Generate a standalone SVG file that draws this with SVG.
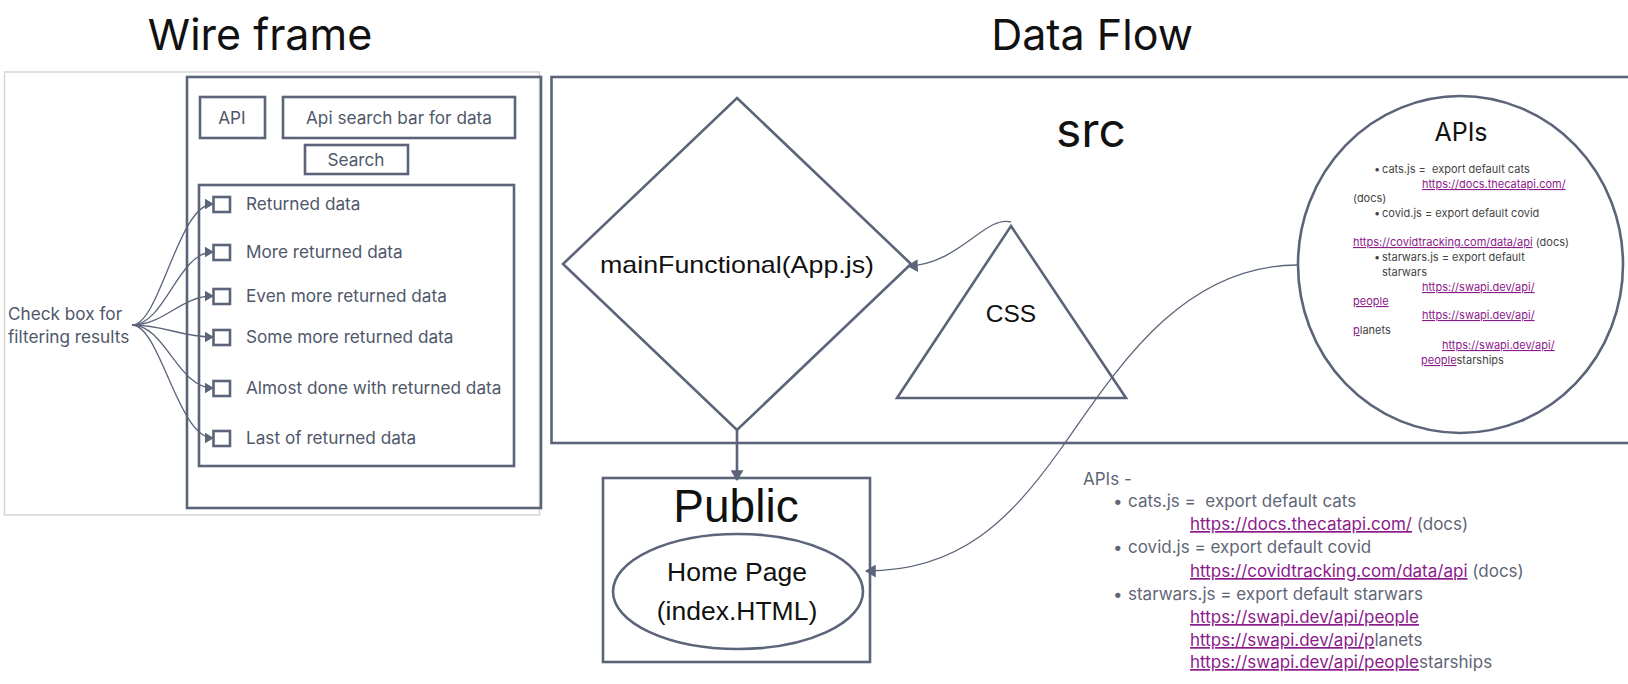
<svg xmlns="http://www.w3.org/2000/svg" width="1628" height="684" viewBox="0 0 1628 684">
<style>
.ln{fill:none;stroke:#5b6478;stroke-width:2.6}
.thin{fill:none;stroke:#5b6478;stroke-width:1.3}
.wt{font-family:Inter,"Liberation Sans",sans-serif;font-size:17.2px;fill:#4f586a}
.title{font-family:Inter,"Liberation Sans",sans-serif;font-size:43px;fill:#111}
.bk{font-family:"Liberation Sans",Arial,sans-serif;fill:#111}
.sm{font-family:Inter,"Liberation Sans",sans-serif;font-size:11px;fill:#444}
.lk{fill:#8b1a8b;text-decoration:underline}
.api{font-family:Inter,"Liberation Sans",sans-serif;font-size:17px;fill:#5f6676}
</style>
<defs>
<marker id="ah" viewBox="0 0 10 12" refX="9" refY="6" markerWidth="9" markerHeight="12" markerUnits="userSpaceOnUse" orient="auto">
<path d="M0,0 L10,6 L0,12 Z" fill="#5b6478"/>
</marker>
<marker id="ah2" viewBox="0 0 10 12" refX="9" refY="6" markerWidth="11" markerHeight="13" markerUnits="userSpaceOnUse" orient="auto">
<path d="M0,0 L10,6 L0,12 Z" fill="#5b6478"/>
</marker>
</defs>
<rect width="1628" height="684" fill="#fff"/>

<text class="title" x="260" y="50" text-anchor="middle">Wire frame</text>
<text class="title" x="1092" y="50" text-anchor="middle">Data Flow</text>

<g id="wireframe">
<rect x="4.5" y="72" width="535" height="443" fill="#fff" stroke="#d6d6d6" stroke-width="1.5"/>
<rect class="ln" x="187" y="77" width="354" height="431" stroke-width="3"/>
</g>
<g id="api-box"><rect class="ln" x="200" y="97" width="65" height="41"/><text class="wt" x="232" y="124" text-anchor="middle">API</text></g>
<g id="search-bar"><rect class="ln" x="283" y="97" width="232" height="41"/><text class="wt" x="399" y="124" text-anchor="middle">Api search bar for data</text></g>
<g id="search-btn"><rect class="ln" x="305" y="145" width="103" height="29"/><text class="wt" x="356" y="166" text-anchor="middle">Search</text></g>
<g id="results">
<rect class="ln" x="199" y="185" width="315" height="281"/>
<g id="r1"><rect class="ln" x="213.5" y="197" width="16.5" height="15"/><text class="wt" x="246" y="210">Returned data</text></g>
<g id="r2"><rect class="ln" x="213.5" y="245" width="16.5" height="15"/><text class="wt" x="246" y="258">More returned data</text></g>
<g id="r3"><rect class="ln" x="213.5" y="289" width="16.5" height="15"/><text class="wt" x="246" y="302">Even more returned data</text></g>
<g id="r4"><rect class="ln" x="213.5" y="330" width="16.5" height="15"/><text class="wt" x="246" y="343">Some more returned data</text></g>
<g id="r5"><rect class="ln" x="213.5" y="381" width="16.5" height="15"/><text class="wt" x="246" y="394">Almost done with returned data</text></g>
<g id="r6"><rect class="ln" x="213.5" y="431" width="16.5" height="15"/><text class="wt" x="246" y="444">Last of returned data</text></g>
</g>
<g id="checkbox-label"><text class="wt" x="8" y="320">Check box for</text><text class="wt" x="8" y="343">filtering results</text></g>

<g id="src"><rect class="ln" x="551.5" y="77" width="1090" height="366" stroke-width="3"/><text class="title" x="1091" y="147" text-anchor="middle" style="font-size:48px">src</text></g>
<g id="main"><polygon class="ln" points="737,98 911,264 737,430 563,264"/><text class="bk" x="737" y="273" text-anchor="middle" font-size="24" textLength="274" lengthAdjust="spacingAndGlyphs">mainFunctional(App.js)</text></g>
<g id="css"><polygon class="ln" points="1011,226 1126,398 897,398"/><text class="bk" x="1011" y="322" text-anchor="middle" font-size="24.5">CSS</text></g>
<g id="apis-circle">
<ellipse class="ln" cx="1460.5" cy="264.5" rx="162.5" ry="168.5"/>
<text class="title" x="1461" y="141" text-anchor="middle" style="font-size:25px">APIs</text>
<g class="sm">
<text x="1374" y="173">•</text><text x="1382" y="173">cats.js =&#160; export default cats</text>
<text x="1422" y="188" class="lk">https://docs.thecatapi.com/</text>
<text x="1353" y="202">(docs)</text>
<text x="1374" y="217">•</text><text x="1382" y="217">covid.js = export default covid</text>
<text x="1353" y="246"><tspan class="lk">https://covidtracking.com/data/api</tspan> (docs)</text>
<text x="1374" y="261">•</text><text x="1382" y="261">starwars.js = export default</text>
<text x="1382" y="276">starwars</text>
<text x="1422" y="291" class="lk">https://swapi.dev/api/</text>
<text x="1353" y="305" class="lk">people</text>
<text x="1422" y="319" class="lk">https://swapi.dev/api/</text>
<text x="1353" y="334"><tspan class="lk">p</tspan>lanets</text>
<text x="1442" y="349" class="lk">https://swapi.dev/api/</text>
<text x="1421" y="364"><tspan class="lk">people</tspan>starships</text>
</g>
</g>
<g id="public"><rect class="ln" x="603" y="478" width="267" height="184"/><text class="bk" x="736" y="522" text-anchor="middle" font-size="46">Public</text></g>
<g id="home"><ellipse class="ln" cx="738" cy="591.5" rx="125" ry="57.5"/><text class="bk" x="737" y="581" text-anchor="middle" font-size="26.5">Home Page</text><text class="bk" x="737" y="620" text-anchor="middle" font-size="26.5">(index.HTML)</text></g>

<g id="apis-note" class="api">
<text x="1083" y="485">APIs -</text>
<text x="1113" y="507">•</text><text x="1128" y="507">cats.js =&#160; export default cats</text>
<text x="1190" y="530"><tspan class="lk">https://docs.thecatapi.com/</tspan> (docs)</text>
<text x="1113" y="553">•</text><text x="1128" y="553">covid.js = export default covid</text>
<text x="1190" y="577"><tspan class="lk">https://covidtracking.com/data/api</tspan> (docs)</text>
<text x="1113" y="600">•</text><text x="1128" y="600">starwars.js = export default starwars</text>
<text x="1190" y="623" class="lk">https://swapi.dev/api/people</text>
<text x="1190" y="646"><tspan class="lk">https://swapi.dev/api/p</tspan>lanets</text>
<text x="1190" y="668"><tspan class="lk">https://swapi.dev/api/people</tspan>starships</text>
</g>

<g id="connectors">
<path class="thin" stroke-width="1.5" marker-end="url(#ah)" d="M132,325 C160,325 178,204 213,204"/>
<path class="thin" stroke-width="1.5" marker-end="url(#ah)" d="M132,325 C165,325 178,252 213,252"/>
<path class="thin" stroke-width="1.5" marker-end="url(#ah)" d="M132,325 C165,325 180,296 213,296"/>
<path class="thin" stroke-width="1.5" marker-end="url(#ah)" d="M132,325 C165,325 180,337 213,337"/>
<path class="thin" stroke-width="1.5" marker-end="url(#ah)" d="M132,325 C165,325 178,388 213,388"/>
<path class="thin" stroke-width="1.5" marker-end="url(#ah)" d="M132,325 C160,325 178,438 213,438"/>
<path class="thin" marker-end="url(#ah2)" d="M1011,222 C985,215 960,264 908,266"/>
<path class="ln" stroke-width="2" marker-end="url(#ah2)" d="M737,430 L737,480"/>
<path class="thin" marker-end="url(#ah2)" d="M1298,265 C1180,265 1115,372 1060,450 C1010,520 960,571 866,571"/>
</g>
</svg>
